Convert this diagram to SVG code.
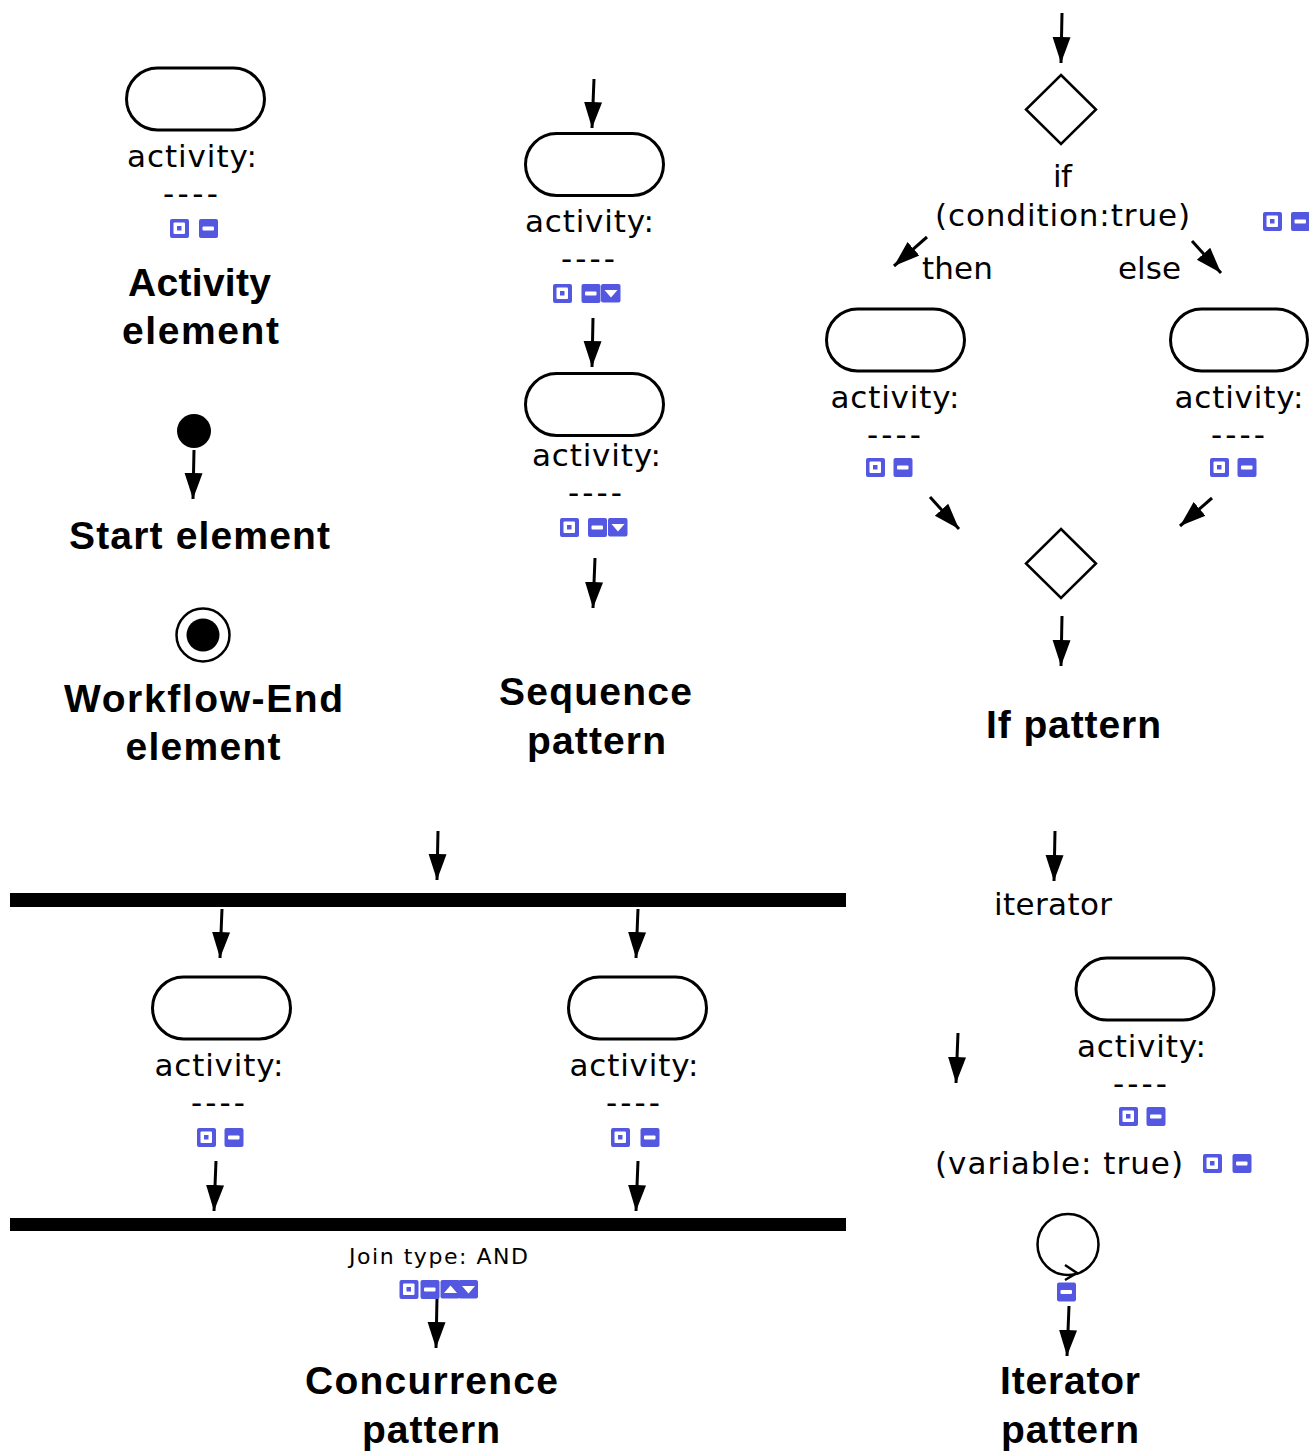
<svg xmlns="http://www.w3.org/2000/svg" xmlns:xlink="http://www.w3.org/1999/xlink" width="1309" height="1451" viewBox="0 0 1309 1451">
<style>
text{fill:#000}
.t{font-family:"DejaVu Sans",Verdana,sans-serif;font-size:31px}
.s{font-size:22px}
.b{font-family:"Liberation Sans",Arial,sans-serif;font-weight:700;font-size:39px}
.pill{fill:#fff;stroke:#000;stroke-width:3}
.dia{fill:#fff;stroke:#000;stroke-width:2.5}
.arrow{fill:none;stroke:#000;stroke-width:3;marker-end:url(#head)}
.bar{fill:#000}
.ib{fill:#5458e0}
.iw{fill:#fff}
</style>
<defs>
<marker id="head" markerUnits="userSpaceOnUse" markerWidth="28" markerHeight="20" refX="26" refY="9" orient="auto" viewBox="0 0 28 18">
<path d="M0 0L26 9L0 18Z" fill="#000"/>
</marker>
<g id="i-box"><rect class="ib" x="0" y="0" width="19" height="19" rx="2"/><rect x="3.500" y="3.500" width="11.500" height="11.500" rx="1" class="iw"/><rect x="7" y="7" width="4.500" height="4.500" fill="#5458e0"/></g>
<g id="i-min"><rect class="ib" x="0" y="0" width="19" height="19" rx="2"/><rect x="3.500" y="7.500" width="11.500" height="4" rx="1" class="iw"/></g>
<g id="i-up"><rect class="ib" x="0" y="0" width="19.500" height="18.500" rx="2"/><path d="M3.500 13L10 5.500L16.500 13Z" class="iw"/></g>
<g id="i-dn"><rect class="ib" x="0" y="0" width="19.500" height="18.500" rx="2"/><path d="M3.500 6L16.500 6L10 13.500Z" class="iw"/></g>
</defs>
<rect width="1309" height="1451" fill="#fff"/>

<g id="connectors">
<path class="arrow" d="M1062 13L1061 63"/>
<path class="arrow" d="M594 79L592 128"/>
<path class="arrow" d="M593 318L592 367"/>
<path class="arrow" d="M595 558L593 608"/>
<path class="arrow" d="M194 450L193 499"/>
<path class="arrow" d="M927 237L894 266"/>
<path class="arrow" d="M1192 241L1221 273"/>
<path class="arrow" d="M930 497L959 529"/>
<path class="arrow" d="M1212 498L1180 526"/>
<path class="arrow" d="M1062 616L1061 666"/>
<path class="arrow" d="M438 831L437 880"/>
<path class="arrow" d="M222 909L220 958"/>
<path class="arrow" d="M638 909L636 958"/>
<path class="arrow" d="M216 1161L214 1211"/>
<path class="arrow" d="M638 1161L636 1211"/>
<path class="arrow" d="M437 1298L436 1348"/>
<path class="arrow" d="M1055 831L1054 881"/>
<path class="arrow" d="M958 1033L956 1083"/>
<path class="arrow" d="M1069 1306L1067 1356"/>
</g>

<g id="activity-element">
<rect class="pill" x="126.500" y="68" width="138" height="62" rx="31"/>
<text class="t" x="127" y="167" textLength="130">activity:</text>
<text class="t" x="163" y="204" textLength="55">----</text>
<use href="#i-box" x="170" y="219"/><use href="#i-min" x="199" y="219"/>
<text class="b" x="128" y="296" textLength="143">Activity</text>
<text class="b" x="122" y="344" textLength="157">element</text>
</g>

<g id="start-element">
<circle cx="194" cy="431" r="17" fill="#000"/>
<text class="b" x="69" y="548.500" textLength="261">Start element</text>
</g>

<g id="end-element">
<circle cx="203" cy="635" r="26.500" fill="#fff" stroke="#000" stroke-width="2.500"/>
<circle cx="203" cy="635" r="16.500" fill="#000"/>
<text class="b" x="64" y="712" textLength="279">Workflow-End</text>
<text class="b" x="125.500" y="760" textLength="155">element</text>
</g>

<g id="sequence-activity-1">
<rect class="pill" x="525.500" y="133.500" width="138" height="62" rx="31"/>
<text class="t" x="525" y="232" textLength="129">activity:</text>
<text class="t" x="561" y="269" textLength="54">----</text>
<use href="#i-box" x="553" y="284"/><use href="#i-min" x="581.500" y="284"/><use href="#i-dn" x="601" y="284"/>
</g>
<g id="sequence-activity-2">
<rect class="pill" x="525.500" y="373.500" width="138" height="62" rx="31"/>
<text class="t" x="532" y="466" textLength="129">activity:</text>
<text class="t" x="568" y="503" textLength="54">----</text>
<use href="#i-box" x="560" y="518"/><use href="#i-min" x="588" y="518"/><use href="#i-dn" x="608" y="518"/>
</g>
<g id="sequence-label">
<text class="b" x="499" y="705" textLength="193">Sequence</text>
<text class="b" x="527" y="753.500" textLength="139">pattern</text>
</g>

<g id="if-decision">
<path class="dia" d="M1061 75L1096 109.500L1061 144L1026 109.500Z"/>
<text class="t" x="1053" y="187" textLength="19">if</text>
<text class="t" x="935" y="225.500" textLength="255">(condition:true)</text>
<use href="#i-box" x="1263" y="212"/><use href="#i-min" x="1291" y="212"/>
<text class="t" x="922" y="279" textLength="71">then</text>
<text class="t" x="1118" y="279" textLength="63">else</text>
</g>
<g id="if-activity-then">
<rect class="pill" x="826.500" y="309" width="138" height="62" rx="31"/>
<text class="t" x="830.500" y="408" textLength="129">activity:</text>
<text class="t" x="867" y="445" textLength="54">----</text>
<use href="#i-box" x="866" y="458"/><use href="#i-min" x="893.500" y="458"/>
</g>
<g id="if-activity-else">
<rect class="pill" x="1170.500" y="309" width="137" height="62" rx="31"/>
<text class="t" x="1174.500" y="408" textLength="129">activity:</text>
<text class="t" x="1211" y="445" textLength="54">----</text>
<use href="#i-box" x="1210" y="458"/><use href="#i-min" x="1237.500" y="458"/>
</g>
<g id="if-merge">
<path class="dia" d="M1061 529L1096 563.500L1061 598L1026 563.500Z"/>
</g>
<g id="if-label">
<text class="b" x="986" y="738" textLength="175">If pattern</text>
</g>

<g id="fork-bar"><rect class="bar" x="10" y="893" width="836" height="14"/></g>
<g id="concurrence-activity-1">
<rect class="pill" x="152.500" y="977" width="138" height="62" rx="31"/>
<text class="t" x="154.500" y="1076" textLength="129">activity:</text>
<text class="t" x="191" y="1113" textLength="54">----</text>
<use href="#i-box" x="197" y="1128"/><use href="#i-min" x="224.500" y="1128"/>
</g>
<g id="concurrence-activity-2">
<rect class="pill" x="568.500" y="977" width="138" height="62" rx="31"/>
<text class="t" x="569.500" y="1076" textLength="129">activity:</text>
<text class="t" x="606" y="1113" textLength="54">----</text>
<use href="#i-box" x="611" y="1128"/><use href="#i-min" x="640.500" y="1128"/>
</g>
<g id="join-bar">
<rect class="bar" x="10" y="1218" width="836" height="13"/>
<text class="t s" x="349" y="1263.500" textLength="179">Join type: AND</text>
<use href="#i-box" x="399.500" y="1280"/><use href="#i-min" x="420.500" y="1280"/><use href="#i-up" x="440.500" y="1280"/><use href="#i-dn" x="458.500" y="1280"/>
</g>
<g id="concurrence-label">
<text class="b" x="305" y="1394" textLength="253">Concurrence</text>
<text class="b" x="362" y="1443" textLength="138">pattern</text>
</g>

<g id="iterator-header">
<text class="t" x="994" y="915" textLength="118">iterator</text>
</g>
<g id="iterator-activity">
<rect class="pill" x="1076" y="958" width="138" height="62" rx="31"/>
<text class="t" x="1077" y="1057" textLength="129">activity:</text>
<text class="t" x="1113" y="1094" textLength="54">----</text>
<use href="#i-box" x="1119" y="1107"/><use href="#i-min" x="1146.500" y="1107"/>
</g>
<g id="iterator-condition">
<text class="t" x="935" y="1174" textLength="248">(variable: true)</text>
<use href="#i-box" x="1203" y="1154"/><use href="#i-min" x="1232.500" y="1154"/>
</g>
<g id="iterator-loop">
<circle cx="1068" cy="1244.500" r="30.500" fill="none" stroke="#000" stroke-width="2.500"/>
<path d="M1065 1265L1077 1273L1065 1280" fill="none" stroke="#000" stroke-width="2.500"/>
<use href="#i-min" x="1057" y="1282.500"/>
</g>
<g id="iterator-label">
<text class="b" x="1000" y="1394" textLength="140">Iterator</text>
<text class="b" x="1001" y="1443" textLength="138">pattern</text>
</g>
</svg>
